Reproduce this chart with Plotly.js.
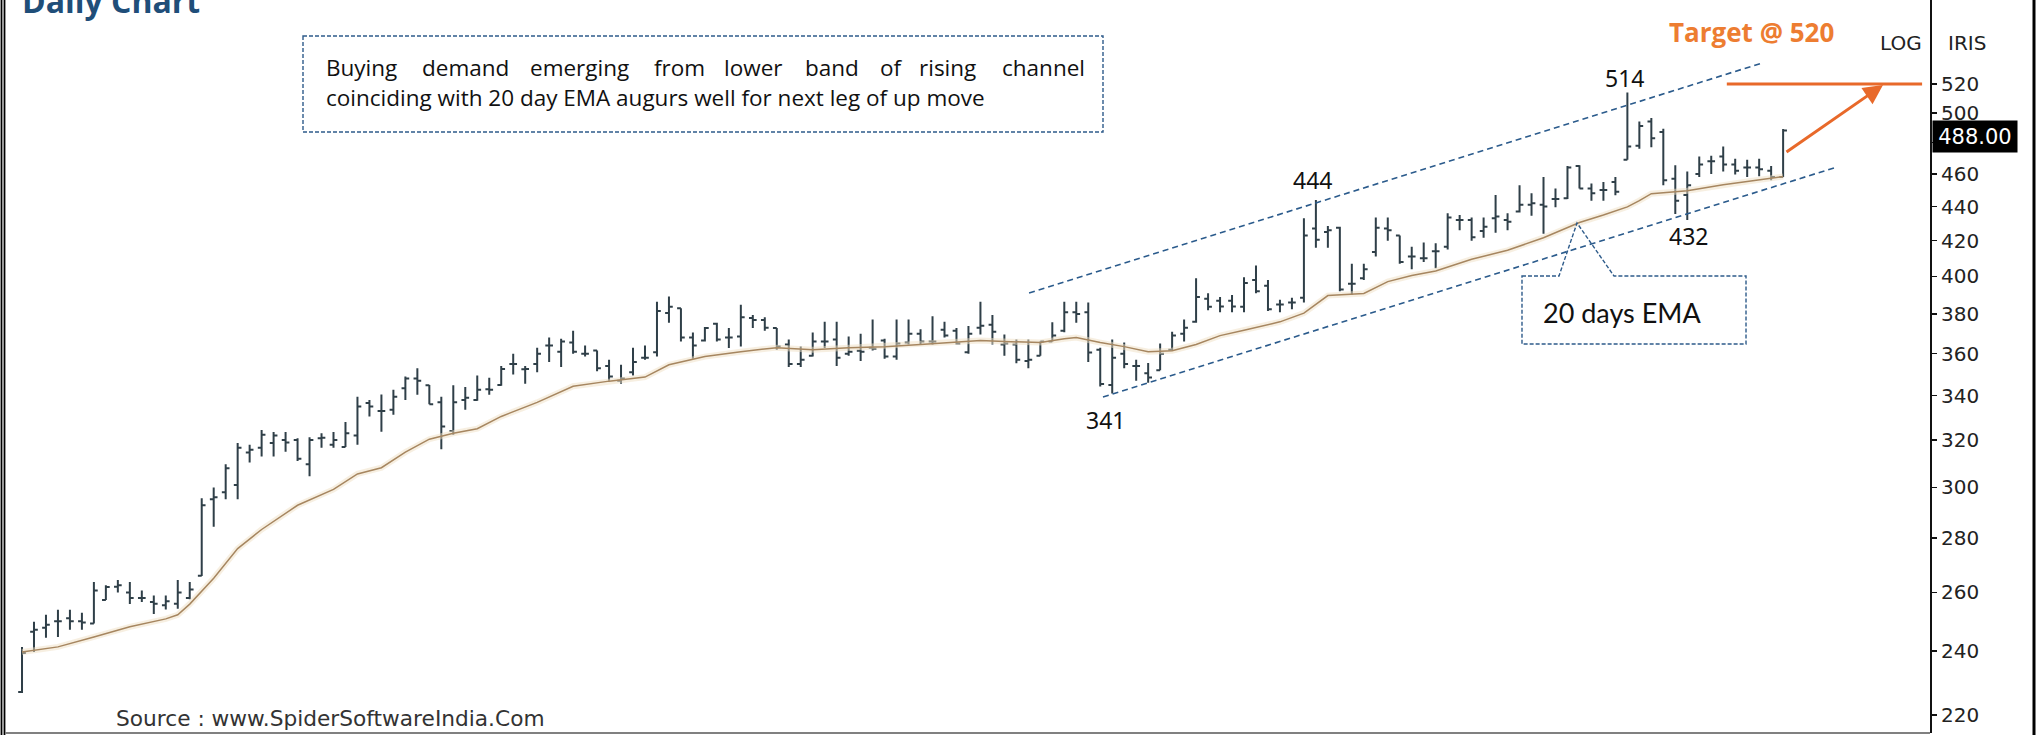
<!DOCTYPE html>
<html><head><meta charset="utf-8">
<script src="https://cdn.plot.ly/plotly-3.0.1.min.js"></script>
<style>html,body{margin:0;padding:0;background:#fff;overflow:hidden;} #chart{width:2039px;height:735px;}</style>
</head><body><div id="chart"></div>
<script>
// ---- Data ----
const openP = [227,246.4,247.8,250,251,250,249.2,257.3,262,260,258,256.6,255.5,256,258,266,295.2,298,301,314.6,
316.7,318.7,320,320,309.6,320.8,318,317,322,336.6,333,333.5,343.5,348,344.8,337,324,338,338,343,
345,355,352.5,355,364,361,365.5,360,361.6,354,347,351,358,360.7,380.5,383,368,366.5,375,368,
368.6,378,377,372.8,364.6,355,359,366,367,360,361.5,363,366.5,358.6,365.6,370,366,372,371.5,360.7,
373,374.5,364.6,364.6,356.5,359,366,371.5,381,381,362,345,360,354,350.5,352,362,370,376,388,
387,387,383.8,398,395,385,386,388.6,427,425,427.5,396,399,413.5,427,423,411,410,414,416.5,
432,432,425.6,433,432,437,441,441,444.6,445,465,451,450,455,469,478,494,487,457,447,
460,468,471,466,464,464,462,458];
const highP = [241.4,249.8,252.2,253.9,253.9,252.9,263.7,262.6,264.4,263.7,260.7,258.9,258.9,264.4,263.7,295.6,300,309.6,318.8,318,
324.5,323.6,323.6,320.8,321.3,323,323.6,328,339.5,338,340.5,342.8,349,353,345,339.5,344.8,344,349.5,348.4,
354,360,354,363,368,367.4,371.5,364,361.6,357,354.6,363,364,386.5,389.2,383,370.6,373.4,375.5,372.8,
384.9,379.5,378.4,372.8,367,363.6,370.6,376,376,368.5,370,377.2,367.4,377.2,377.2,372.2,378.9,376,372.8,373.9,
386.5,379.5,369.6,367,367,366,375.8,386.5,386.5,386,363,367,365.5,357,355.5,365,371,377.2,399,391,
389,390,399.5,406,398,387.5,388.6,433,444,428.5,428,407,407,433.5,433.5,423,416.5,419,418.5,436,
435,433.5,433.5,447,436,453,448,458,451,465,465.5,454,455,458,514,494,496.5,489.3,465.5,461.5,
471,471.5,477.5,469.6,469,469.6,465,489];
const lowP = [226.7,239.7,244.4,244.7,247.1,247.1,249.2,257.3,260,255.9,256.6,252.5,254,254.3,257.6,265.9,284.4,295.2,295.2,310.4,
312.9,312.9,315,311,304.6,316.7,316.7,317,318,330.5,323.7,331.3,338,340.4,336,316,322.3,333.5,337.7,340.4,
344.6,350,345.6,351,356,353.6,360,358.6,351.5,347,345.6,349.5,357,358.6,375.5,366,357.5,366,366,362.8,
363.6,372.8,371.5,362,353.6,353.6,358.6,362.8,354,359,356.5,361.6,357.5,357,364.6,364.6,364.6,368,364.6,360,
369.6,364.6,359,355.3,353,359,366,370.7,375.5,356,344.3,341,353,347,346,352,361.5,366,375.5,382,
381,381,381,391,381.6,381,382.5,386,416,416,392,390,398,411,420,407,404,408,404.5,415,
426,420,421.6,424.5,426,436.5,434.5,424,439.5,444.6,451,443.5,443.5,446.8,469,476,477,453,435.5,432,
458,460,461.5,459.7,458,458.5,456,458];
const closeP = [239.4,247.1,248.8,250,250,249.6,260.7,261.9,262.6,258,258,256,256.9,260,261,292.8,296,308,316.7,315.8,
322.3,322,319,312,320,321,320,323,335,335,333,339.5,348,347,336,326,337,339,342.8,342.8,
352.6,355,352.6,360,364,366,361,360,353,349,348,356,358,381.6,383.8,368,364,372.8,367,368,
378.4,377,373,363.6,355,357,366,366,358,361,361,362.5,358.6,365,370,366,366,369,365,370,
374,371,365,357,357,366,369,381,380,360.6,345.5,358,355,354,348.5,360,369,373,389,383.8,
384,384,396.5,392,382.5,385,386,423,420.5,426,393,396,404,427.5,426,408,411,410,414,433.5,
432,422,428,434,431,441,442,440,444.6,464,451,448,450,449,477.5,491,483,456,443.5,453,
466,468,466,462,464,463,458,488];

// 20 day EMA, read at selected bars
const emaIndex = [0,3,6,9,12,13,14,16,18,20,23,26,28,30,32,34,36,38,40,43,46,49,52,54,57,60,63,66,69,72,75,78,80,82,85,87,88,90,92,94,96,98,100,102,105,107,109,112,114,116,118,121,124,127,130,132,134,135,136,139,142,144,147];
const emaValue = [239.7,241.4,244.7,248.1,250.8,252.2,255.9,265.1,276,283.3,292.8,299.2,305.6,308.2,314.8,320.4,323,325,330.5,336.9,344.4,346.8,348.7,354.6,358.6,361,363,362,363,363.5,364.6,365.6,366.5,366,365.6,367.4,368,365.5,363.5,361,361.5,364.6,369,371.7,376,380.5,389.7,390.8,397.2,400.5,403,409.5,414.5,421.7,430.5,434.9,439.8,443.6,447.8,449.6,453.3,455.3,458.4];

// rising channel (start / end points)
const upperIdx = [84.06, 145.24], upperVal = [391.1, 535.1];
const lowerIdx = [90.23, 151.5],  lowerVal = [339.4, 464.4];
const targetIdx = [142.3, 158.6], targetVal = [520, 520];

const yTicks = [220,240,260,280,300,320,340,360,380,400,420,440,460,480,500,520];
const lastClose = '488.00';

const barIdx = openP.map((_, i) => i);

// ---- Layout helpers (pixel -> paper) ----
const ML = 5, MR = 109, MT = 0, MB = 2, W = 2039, H = 735;
const PW = W - ML - MR, PH = H - MT - MB;
const X = px => (px - ML) / PW;
const Y = py => (H - MB - py) / PH;

const barColor = '#2f3f48';
const traces = [
  {type:'scatter', mode:'lines', x: emaIndex, y: emaValue, line:{color:'rgba(240,224,196,0.5)', width:6}, hoverinfo:'skip'},
  {type:'scatter', mode:'lines', x: emaIndex, y: emaValue, line:{color:'#a68660', width:1.5}, hoverinfo:'skip'},
  {type:'ohlc', x: barIdx, open: openP, high: highP, low: lowP, close: closeP,
   increasing:{line:{color:barColor, width:2}}, decreasing:{line:{color:barColor, width:2}},
   tickwidth:0.32, hoverinfo:'skip'},
  {type:'scatter', mode:'lines', x: upperIdx, y: upperVal, line:{color:'#2b5b8c', width:1.6, dash:'6px,4px'}, hoverinfo:'skip'},
  {type:'scatter', mode:'lines', x: lowerIdx, y: lowerVal, line:{color:'#2b5b8c', width:1.6, dash:'6px,4px'}, hoverinfo:'skip'},
  {type:'scatter', mode:'lines', x: targetIdx, y: targetVal, line:{color:'#e8692a', width:3}, hoverinfo:'skip'}
];

const ann = [];
function txt(text, px, py, opts) {
  ann.push(Object.assign({text, xref:'paper', yref:'paper', x:X(px), y:Y(py), showarrow:false,
    xanchor:'center', yanchor:'middle', font:{family:'Lato', size:22, color:'#111'}}, opts||{}));
}
const boxFont = {family:'Open Sans', size:22.5, color:'#111'};
txt('<b>Daily Chart</b>', 20, 0, {xanchor:'left', font:{family:'Open Sans', size:32, color:'#1f4e79'}});
txt('<b>Target @ 520</b>', 1667, 32, {xanchor:'left', font:{family:'Open Sans', size:26, color:'#ed7d31'}});
txt('LOG', 1901, 43, {font:{family:'DejaVu Sans', size:20, color:'#222'}});
txt('IRIS', 1967, 43, {font:{family:'DejaVu Sans', size:20, color:'#222'}});
txt(lastClose, 1975, 136.5, {width:84, height:31, bgcolor:'#000', borderpad:0, font:{family:'DejaVu Sans', size:21, color:'#fff'}});
txt('514', 1624, 78, {font:{family:'Noto Sans', size:23, color:'#111'}});
txt('444', 1312, 180, {font:{family:'Noto Sans', size:23, color:'#111'}});
txt('432', 1688, 236, {font:{family:'Noto Sans', size:23, color:'#111'}});
txt('341', 1105, 420, {font:{family:'Noto Sans', size:23, color:'#111'}});
txt('20 days EMA', 1622, 312, {font:{family:'Lato', size:27, color:'#111'}});
txt('Source : www.SpiderSoftwareIndia.Com', 114, 718, {xanchor:'left', font:{family:'DejaVu Sans', size:21.7, color:'#333'}});
// justified first line of the comment box
const line1 = [['Buying',324],['demand',420],['emerging',528],['from',652],['lower',722],['band',803],['of',878],['rising',917],['channel',1000]];
line1.forEach(([w, px]) => txt(w, px, 67, {xanchor:'left', font:boxFont}));
txt('coinciding with 20 day EMA augurs well for next leg of up move', 324, 97, {xanchor:'left', font:boxFont});
// target arrow
ann.push({xref:'paper', yref:'paper', x:X(1883), y:Y(85), ax:1785-1883, ay:153-85, text:'', showarrow:true,
  arrowhead:2, arrowsize:1.3, arrowwidth:3, arrowcolor:'#e8692a'});

const P = (px, py) => X(px).toFixed(5) + ',' + Y(py).toFixed(5);
const shapes = [
  {type:'rect', xref:'paper', yref:'paper', x0:X(303), y0:Y(36), x1:X(1103), y1:Y(132), line:{color:'#2e5b8a', width:1.4, dash:'4px,2px'}},
  {type:'path', xref:'paper', yref:'paper', path:'M'+P(1522,276)+'L'+P(1559,276)+'L'+P(1577,223)+'L'+P(1614,276)+'L'+P(1746,276)+'L'+P(1746,344)+'L'+P(1522,344)+'Z',
   line:{color:'#2e5b8a', width:1.4, dash:'4px,2px'}},
  {type:'line', xref:'paper', yref:'paper', x0:X(1.5), x1:X(1.5), y0:Y(0), y1:Y(735), line:{color:'#000', width:1.8}},
  {type:'line', xref:'paper', yref:'paper', x0:X(4.5), x1:X(4.5), y0:Y(0), y1:Y(735), line:{color:'#000', width:1.8}},
  {type:'line', xref:'paper', yref:'paper', x0:X(2034), x1:X(2034), y0:Y(0), y1:Y(735), line:{color:'#000', width:3}},
  {type:'line', xref:'paper', yref:'paper', x0:X(5), x1:X(1930), y0:Y(733), y1:Y(733), line:{color:'#808080', width:2}}
];

const layout = {
  width: W, height: H, margin:{l:ML, r:MR, t:MT, b:MB, pad:0},
  paper_bgcolor:'#fff', plot_bgcolor:'#fff', showlegend:false,
  xaxis:{range:[-1.42, 159.26], visible:false, rangeslider:{visible:false}, fixedrange:true},
  yaxis:{type:'log', side:'right', range:[2.33175, 2.76573], showgrid:false, zeroline:false,
    showline:true, linecolor:'#111', linewidth:2, ticks:'outside', ticklen:5, tickwidth:1.5, tickcolor:'#111',
    tickvals: yTicks, ticktext: yTicks.map(String), tickfont:{family:'DejaVu Sans', size:20, color:'#222'}, fixedrange:true},
  annotations: ann, shapes: shapes
};
Plotly.newPlot('chart', traces, layout, {staticPlot:true, displayModeBar:false});
</script></body></html>
